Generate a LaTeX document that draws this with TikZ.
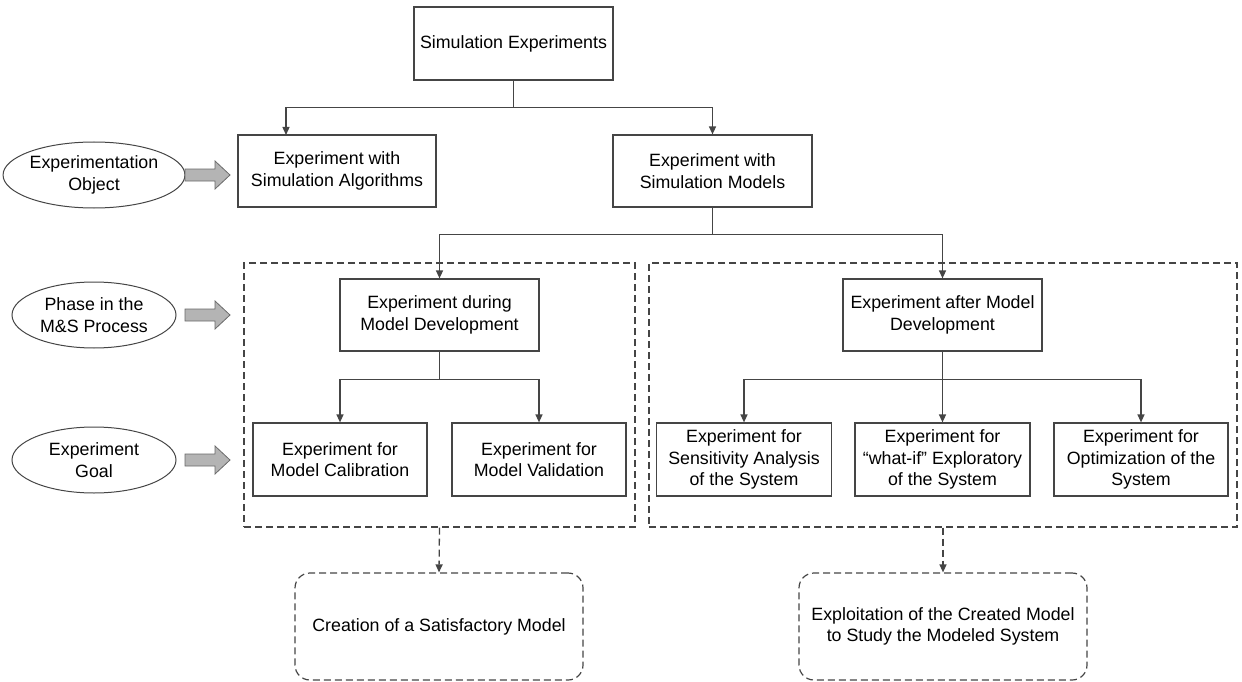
\documentclass[tikz,border=0pt]{standalone}
\usepackage{fontspec}
\setmainfont{Liberation Sans}
\usetikzlibrary{arrows.meta,shapes.geometric}
\definecolor{linegray}{HTML}{454545}
\definecolor{blockfill}{HTML}{B4B4B4}
\definecolor{blockedge}{HTML}{6A6A6A}
\tikzset{
  lbl/.style={font=\fontsize{17.8}{21.7}\selectfont, align=center, text=black},
  box/.style={lbl, draw=linegray, line width=1.2pt, inner sep=0pt},
  group/.style={draw=linegray, line width=1.2pt, dash pattern=on 7pt off 4pt, inner sep=0pt},
  goalbox/.style={lbl, draw=linegray, line width=1.2pt, dash pattern=on 7pt off 4pt,
    rounded corners=15pt, inner sep=0pt, minimum width=288pt, minimum height=107pt},
  facet/.style={lbl, ellipse, draw=linegray, line width=1pt, inner sep=0pt,
    minimum width=164pt, minimum height=66pt},
  link/.style={draw=linegray, line width=1.3pt, -{Triangle[length=8pt,width=7pt]}},
  dlink/.style={link, dash pattern=on 7pt off 4pt},
  wire/.style={draw=linegray, line width=1.3pt},
  blockarrow/.style={fill=blockfill, draw=blockedge, line width=0.8pt},
}
\begin{document}
\begin{tikzpicture}[x=1pt,y=-1pt]
\useasboundingbox (0,0) rectangle (1242,682);

% main hierarchy
\node[box, minimum width=199pt, minimum height=73pt] (se)  at (513.5,43.5) {Simulation Experiments};
\node[box, minimum width=198pt, minimum height=72pt] (alg) at (337,171)   {Experiment with\\Simulation Algorithms};
\node[box, minimum width=199pt, minimum height=72pt] (mod) at (712.5,171) {Experiment with\\Simulation Models};

% phase groups
\node[group, minimum width=391pt, minimum height=264pt] (g1) at (439.5,395) {};
\node[group, minimum width=588pt, minimum height=264pt] (g2) at (943,395) {};

\node[box, minimum width=199pt, minimum height=72pt] (dur) at (439.5,315) {Experiment during\\Model Development};
\node[box, minimum width=199pt, minimum height=72pt] (aft) at (942.5,315) {Experiment after Model\\Development};

% goals
\node[box, minimum width=174pt, minimum height=73pt] (cal) at (340,459.5)  {Experiment for\\Model Calibration};
\node[box, minimum width=174pt, minimum height=73pt] (val) at (539,459.5)  {Experiment for\\Model Validation};
\node[box, minimum width=175pt, minimum height=73pt] (sen) at (744,459.5)  {Experiment for\\Sensitivity Analysis\\of the System};
\node[box, minimum width=175pt, minimum height=73pt] (wif) at (942.5,459.5){Experiment for\\“what-if” Exploratory\\of the System};
\node[box, minimum width=174pt, minimum height=73pt] (opt) at (1141,459.5) {Experiment for\\Optimization of the\\System};

% outcomes
\node[goalbox] (r1) at (439,626.5) {Creation of a Satisfactory Model};
\node[goalbox] (r2) at (943,626.5) {Exploitation of the Created Model\\to Study the Modeled System};

% classification facets
\node[facet] (e1) at (94,175) {Experimentation\\Object};
\node[facet] (e2) at (94,315) {Phase in the\\M\&S Process};
\node[facet] (e3) at (94,460) {Experiment\\Goal};

\foreach \yy in {175,315,460}{
  \draw[blockarrow] (185,\yy-6) -- (215,\yy-6) -- (215,\yy-14) -- (230,\yy)
    -- (215,\yy+14) -- (215,\yy+6) -- (185,\yy+6) -- cycle;
}

% tree connectors
\draw[wire] (se.south) -- ++(0,27) coordinate (j1);
\coordinate (algin) at (286,135);
\draw[link] (j1) -| (algin);
\draw[link] (j1) -| (mod.north);

\draw[wire] (mod.south) -- ++(0,27) coordinate (j2);
\draw[link] (j2) -| (dur.north);
\draw[link] (j2) -| (aft.north);

\draw[wire] (dur.south) -- ++(0,28) coordinate (j3);
\draw[link] (j3) -| (cal.north);
\draw[link] (j3) -| (val.north);

\draw[wire] (aft.south) -- ++(0,28) coordinate (j4);
\draw[link] (j4) -| (sen.north);
\draw[link] (aft.south) -- (wif.north);
\draw[link] (j4) -| (opt.north);

% outcome links
\draw[dlink] (g1.south) -- (r1.north);
\draw[dlink] (g2.south) -- (r2.north);
\end{tikzpicture}
\end{document}
